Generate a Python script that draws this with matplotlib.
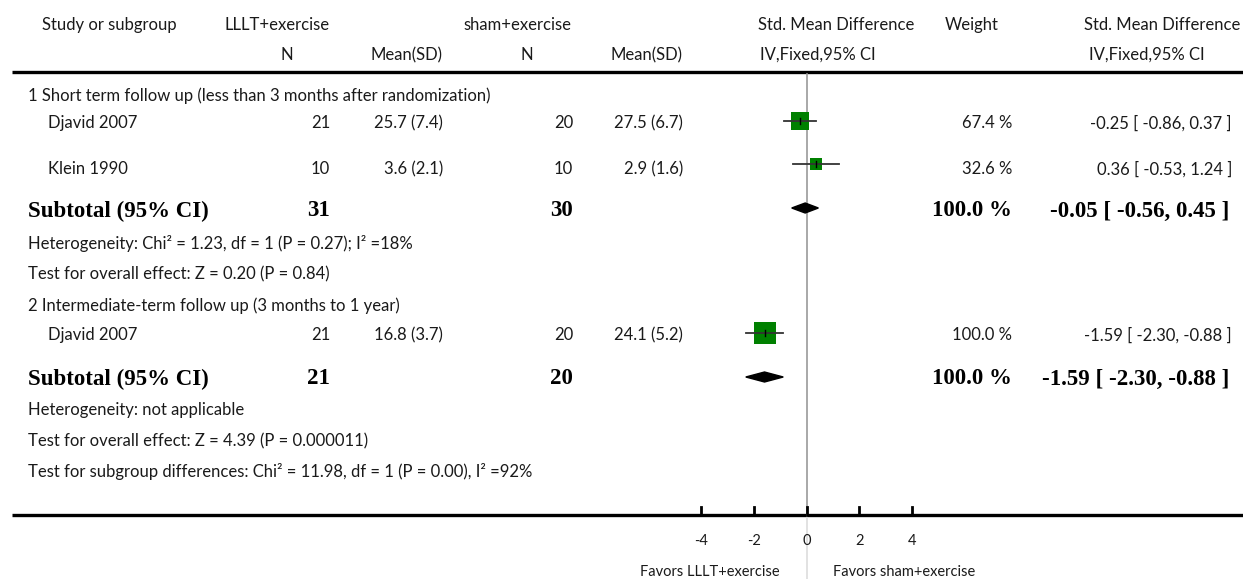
import matplotlib.pyplot as plt
import numpy as np

# study rows
studies = ["Djavid 2007", "Klein 1990", "Djavid 2007"]
n_trt = [21, 10, 21]
mean_trt = ["25.7 (7.4)", "3.6 (2.1)", "16.8 (3.7)"]
n_ctl = [20, 10, 20]
mean_ctl = ["27.5 (6.7)", "2.9 (1.6)", "24.1 (5.2)"]
smd = [-0.25, 0.36, -1.59]
lo = [-0.86, -0.53, -2.30]
hi = [0.37, 1.24, -0.88]
weight = [67.4, 32.6, 100.0]

# subtotals
sub_n_trt = [31, 21]
sub_n_ctl = [30, 20]
sub_smd = [-0.05, -1.59]
sub_lo = [-0.56, -2.30]
sub_hi = [0.45, -0.88]
sub_weight = [100.0, 100.0]

group_titles = ["1 Short term follow up (less than 3 months after randomization)",
                "2 Intermediate-term follow up (3 months to 1 year)"]
heterog = ["Heterogeneity: Chi² = 1.23, df = 1 (P = 0.27); I² =18%",
           "Heterogeneity: not applicable"]
overall = ["Test for overall effect: Z = 0.20 (P = 0.84)",
           "Test for overall effect: Z = 4.39 (P = 0.000011)"]
subgroup_diff = "Test for subgroup differences: Chi² = 11.98, df = 1 (P = 0.00), I² =92%"

xticks = [-4, -2, 0, 2, 4]

# layout (pixel rows)
W, H = 1243, 579
zero_px, unit_px = 806.5, 26.4
study_y = [123, 169, 335]
study_mark_y = [121, 164, 333]
sub_y = [211, 379]
sub_mark_y = [208, 377]
title_y = [96, 306]
het_y = [244, 410]
ov_y = [274, 441]


def px(x):
    return (x - zero_px) / unit_px


fig = plt.figure(figsize=(W / 100, H / 100), dpi=100)
ax = fig.add_axes([0, 0, 1, 1])
ax.set_xlim(px(0), px(W))
ax.set_ylim(H, 0)
ax.axis('off')

reg = dict(family='Lato', fontsize=12, color='#1a1a1a', va='center')
small = dict(family='Lato', fontsize=10.5, color='#1a1a1a', va='center')
bold = dict(family='Liberation Serif', fontsize=16.5, fontweight='bold', color='black', va='center')

# header
ax.text(px(42), 25, "Study or subgroup", ha='left', **reg)
ax.text(px(225), 25, "LLLT+exercise", ha='left', **reg)
ax.text(px(463), 25, "sham+exercise", ha='left', **reg)
ax.text(px(836), 25, "Std. Mean Difference", ha='center', **reg)
ax.text(px(945), 25, "Weight", ha='left', **reg)
ax.text(px(1240), 25, "Std. Mean Difference", ha='right', **reg)
ax.text(px(287), 55, "N", ha='center', **reg)
ax.text(px(443), 55, "Mean(SD)", ha='right', **reg)
ax.text(px(527), 55, "N", ha='center', **reg)
ax.text(px(683), 55, "Mean(SD)", ha='right', **reg)
ax.text(px(760), 55, "IV,Fixed,95% CI", ha='left', **reg)
ax.text(px(1089), 55, "IV,Fixed,95% CI", ha='left', **reg)
ax.plot([px(12), px(W)], [72, 72], color='black', lw=2.4, solid_capstyle='butt')
ax.plot([px(12), px(W)], [515, 515], color='black', lw=2.4, solid_capstyle='butt')

# zero line
ax.plot([0, 0], [74, 515], color='#999999', lw=1.2)
ax.plot([0, 0], [515, H], color='#dddddd', lw=1.2)

# group text
for g in range(2):
    ax.text(px(28), title_y[g], group_titles[g], ha='left', **reg)
    ax.text(px(28), het_y[g], heterog[g], ha='left', **reg)
    ax.text(px(28), ov_y[g], overall[g], ha='left', **reg)
ax.text(px(28), 472, subgroup_diff, ha='left', **reg)

# studies
for i in range(len(studies)):
    y = study_y[i]
    ax.text(px(48), y, studies[i], ha='left', **reg)
    ax.text(px(330), y, str(n_trt[i]), ha='right', **reg)
    ax.text(px(443), y, mean_trt[i], ha='right', **reg)
    ax.text(px(573), y, str(n_ctl[i]), ha='right', **reg)
    ax.text(px(683), y, mean_ctl[i], ha='right', **reg)
    ax.text(px(1012), y, "%.1f %%" % weight[i], ha='right', **reg)
    ax.text(px(1232), y, "%.2f [ %.2f, %.2f ]" % (smd[i], lo[i], hi[i]), ha='right', **reg)
    ym = study_mark_y[i]
    ms = 15.8 * np.sqrt(weight[i] / 100)
    ax.plot([smd[i]], [ym], marker='s', ms=ms, color='#008000', mew=0, zorder=3)
    ax.plot([lo[i], hi[i]], [ym, ym], color='#333333', lw=1.3, zorder=4)
    ax.plot([smd[i], smd[i]], [ym - 3, ym + 3], color='black', lw=1, zorder=5)

# subtotals
for g in range(2):
    y = sub_y[g]
    ax.text(px(28), y, "Subtotal (95% CI)", ha='left', **bold)
    ax.text(px(330), y, str(sub_n_trt[g]), ha='right', **bold)
    ax.text(px(573), y, str(sub_n_ctl[g]), ha='right', **bold)
    ax.text(px(1012), y, "%.1f %%" % sub_weight[g], ha='right', **bold)
    ax.text(px(1229), y, "%.2f [ %.2f, %.2f ]" % (sub_smd[g], sub_lo[g], sub_hi[g]), ha='right', **bold)
    ym = sub_mark_y[g]
    ax.fill([sub_lo[g], sub_smd[g], sub_hi[g], sub_smd[g]], [ym, ym - 5, ym, ym + 5],
            color='black', zorder=4)

# axis ticks
for t in xticks:
    ax.plot([t, t], [507, 515], color='black', lw=2)
    ax.text(t, 541, str(t), ha='center', **small)
ax.text(px(780), 572, "Favors LLLT+exercise", ha='right', **small)
ax.text(px(833), 572, "Favors sham+exercise", ha='left', **small)

fig.savefig("out.png", dpi=100)
